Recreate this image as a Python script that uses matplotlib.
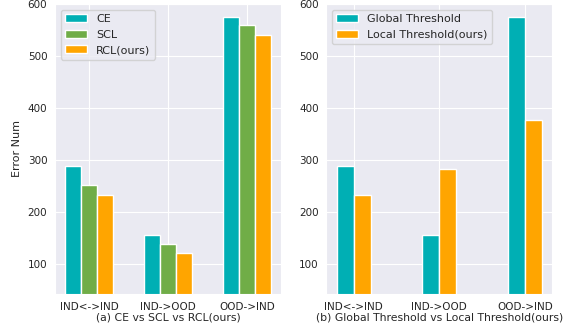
import matplotlib
matplotlib.use("Agg")
import matplotlib.pyplot as plt
import numpy as np
import seaborn as sns

categories = ["IND<->IND", "IND->OOD", "OOD->IND"]

ce = [289, 156, 575]
scl = [252, 139, 560]
rcl = [233, 121, 541]

global_thr = [289, 156, 575]
local_thr = [233, 283, 377]

teal = "#00AFB4"
green = "#70AD47"
orange = "#FFA500"

sns.set_style("darkgrid")
plt.rcParams["font.family"] = ["DejaVu Sans"]
plt.rcParams["font.size"] = 7.5

fig, (ax1, ax2) = plt.subplots(1, 2, figsize=(5.67, 3.31), dpi=100)
x = np.arange(len(categories))
w = 0.2

ax1.bar(x - w, ce, w, color=teal, label="CE")
ax1.bar(x, scl, w, color=green, label="SCL")
ax1.bar(x + w, rcl, w, color=orange, label="RCL(ours)")
ax1.set_ylabel("Error Num", fontsize=8)
ax1.set_xlabel("(a) CE vs SCL vs RCL(ours)", labelpad=1, fontsize=7.8)

ax2.bar(x - w / 2, global_thr, w, color=teal, label="Global Threshold")
ax2.bar(x + w / 2, local_thr, w, color=orange, label="Local Threshold(ours)")
ax2.set_xlabel("(b) Global Threshold vs Local Threshold(ours)", labelpad=1, fontsize=7.8)

for ax in (ax1, ax2):
    ax.set_xticks(x)
    ax.set_xticklabels(categories)
    ax.set_ylim(42, 600)
    ax.set_yticks([100, 200, 300, 400, 500, 600])
    ax.tick_params(pad=2)
    ax.legend(loc="upper left", fontsize=8)

fig.subplots_adjust(left=0.097, right=0.974, top=0.988, bottom=0.112, wspace=0.2)
fig.savefig("out.png", dpi=100)
